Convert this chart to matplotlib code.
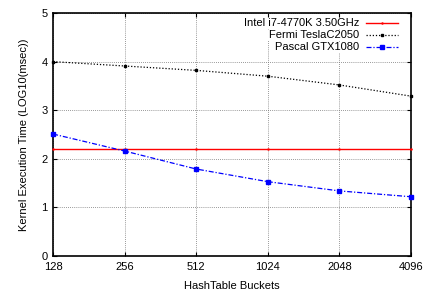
import matplotlib
matplotlib.use("Agg")
import matplotlib.pyplot as plt
from matplotlib.lines import Line2D

plt.rcParams['font.family'] = ['Liberation Sans', 'DejaVu Sans']
plt.rcParams['font.size'] = 8

# hash table bucket counts and log10(msec) kernel times
buckets = [128, 256, 512, 1024, 2048, 4096]
intel = [2.2, 2.2, 2.2, 2.2, 2.2, 2.2]
fermi = [4.0, 3.91, 3.82, 3.70, 3.52, 3.29]
pascal = [2.51, 2.16, 1.79, 1.53, 1.34, 1.22]
names = ['Intel i7-4770K 3.50GHz', 'Fermi TeslaC2050', 'Pascal GTX1080']

fig = plt.figure(figsize=(4.25, 2.96), dpi=100)
ax = fig.add_axes([0.125, 0.135, 0.842, 0.821])

styles = [
    dict(color='#ff0000', linestyle='-', linewidth=1.0, marker='.', markersize=1.5),
    dict(color='black', linestyle=(0, (1, 1.5)), linewidth=0.9, marker='s', markersize=2),
    dict(color='#0000ff', linestyle=(0, (4, 1.5, 1, 1.5)), linewidth=0.9, marker='s', markersize=3.2),
]
for ys, st in zip([intel, fermi, pascal], styles):
    ax.plot(buckets, ys, clip_on=False, zorder=3, **st)

ax.set_xscale('log', base=2)
ax.set_xlim(128, 4096)
ax.set_ylim(0, 5)
ax.set_xticks(buckets)
ax.set_xticklabels([str(b) for b in buckets])
ax.minorticks_off()
ax.set_yticks(range(6))
ax.grid(True, color='#777777', linestyle=(0, (1, 1.5)), linewidth=0.6)
ax.tick_params(direction='in', top=True, right=True, length=3, width=0.8, pad=4)
for s in ax.spines.values():
    s.set_linewidth(1.2)

ax.set_xlabel('HashTable Buckets', labelpad=7)
ax.set_ylabel('Kernel Execution Time (LOG10(msec))', labelpad=9)

# gnuplot-like legend: right aligned labels, sample line at right
leg_ys = [0.957, 0.908, 0.859]
for name, st, ly in zip(names, styles, leg_ys):
    ax.text(0.855, ly, name, transform=ax.transAxes, ha='right', va='center',
            bbox=dict(facecolor='white', edgecolor='none', pad=0.5))
    line_st = {k: v for k, v in st.items() if k not in ('marker', 'markersize')}
    ax.add_line(Line2D([0.875, 0.963], [ly, ly], transform=ax.transAxes, **line_st))
    ax.add_line(Line2D([0.919], [ly], transform=ax.transAxes, linestyle='none',
                       marker=st['marker'], markersize=st['markersize'], color=st['color']))

fig.savefig('out.png', dpi=100)
